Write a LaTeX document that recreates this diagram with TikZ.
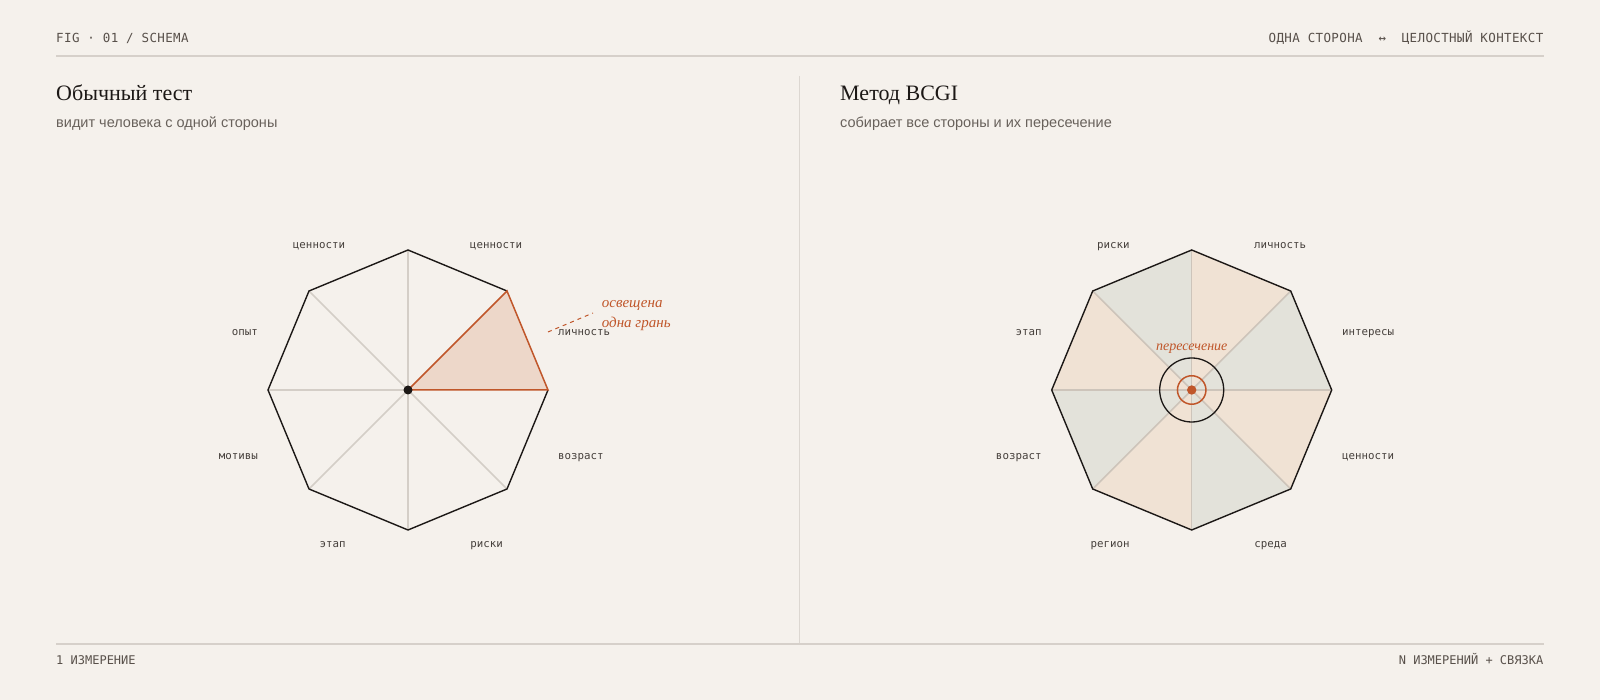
\documentclass[tikz,border=0pt]{standalone}
\usepackage{fontspec}
\usetikzlibrary{calc}
\setmainfont{Liberation Serif}
\setsansfont{Liberation Sans}
\setmonofont{DejaVu Sans Mono}
\newfontfamily\monolbl{DejaVu Sans Mono}
\newfontfamily\monohdr[LetterSpace=3]{DejaVu Sans Mono}
\definecolor{bg}{RGB}{245,241,236}
\definecolor{ink}{RGB}{28,24,22}
\definecolor{hdr}{RGB}{88,80,74}
\definecolor{sub}{RGB}{104,97,91}
\definecolor{lbl}{RGB}{70,64,60}
\definecolor{rule}{RGB}{214,208,202}
\definecolor{spoke}{RGB}{212,206,199}
\definecolor{spokeR}{RGB}{205,196,186}
\definecolor{accent}{RGB}{192,86,42}
\definecolor{wedgeL}{RGB}{237,215,201}
\definecolor{wedgeO}{RGB}{240,226,212}
\definecolor{wedgeG}{RGB}{227,226,218}
\tikzset{
  hdrtxt/.style={font=\monohdr\fontsize{12.5}{14}\selectfont, text=hdr, inner sep=0},
  foottxt/.style={font=\monolbl\fontsize{12}{14}\selectfont, text=hdr, inner sep=0},
  titletxt/.style={font=\rmfamily\fontsize{22}{26}\selectfont, text=ink, inner sep=0},
  subtxt/.style={font=\sffamily\fontsize{14.5}{17}\selectfont, text=sub, inner sep=0},
  axlbl/.style={font=\monolbl\fontsize{10.8}{13}\selectfont, text=lbl, inner sep=0},
  notetxt/.style={font=\rmfamily\itshape\fontsize{15}{18}\selectfont, text=accent, inner sep=0},
  ruleline/.style={draw=rule, line width=1.5pt},
  octline/.style={draw=ink, line width=1.4pt, line join=miter},
  spokeline/.style={draw=spoke, line width=1.5pt},
  spokelineR/.style={draw=spokeR, line width=1.5pt},
}
\begin{document}
\begin{tikzpicture}[x=1pt,y=1pt]
\fill[bg] (0,0) rectangle (1600,700);
\useasboundingbox (0,0) rectangle (1600,700);

% header / footer
\node[hdrtxt, anchor=base west] (fig) at (56,657.7) {FIG · 01 / SCHEMA};
\node[hdrtxt, anchor=base east] (hdrR) at (1543.5,657.7) {ОДНА СТОРОНА\ \ ↔\ \ ЦЕЛОСТНЫЙ КОНТЕКСТ};
\coordinate (htl) at (56,644);
\coordinate (htr) at (1543.5,644);
\draw[ruleline] (htl) -- (htr);
\coordinate (bl) at (56,56);
\coordinate (br) at (1543.5,56);
\draw[ruleline] (bl) -- (br);
\coordinate (dvt) at (799.5,624);
\coordinate (dvb) at (799.5,57);
\draw[draw=rule!80!bg, line width=1.3pt] (dvt) -- (dvb);
\node[foottxt, anchor=base west] (footL) at (56,35) {1 ИЗМЕРЕНИЕ};
\node[foottxt, anchor=base east] (footR) at (1543.5,35) {N ИЗМЕРЕНИЙ + СВЯЗКА};

% titles
\node[titletxt, anchor=base west] (t1) at (56,599) {Обычный тест};
\node[subtxt, anchor=base west] (s1) at (56,572.3) {видит человека с одной стороны};
\node[titletxt, anchor=base west] (t2) at (840,599) {Метод BCGI};
\node[subtxt, anchor=base west] (s2) at (840,572.3) {собирает все стороны и их пересечение};

% ---------------- left octagon ----------------
\coordinate (Lc) at (408,310);
\foreach \i in {0,...,7} {
  \coordinate (L\i) at ($(Lc)+({45*\i}:140)$);
}
\foreach \i in {2,...,7} { \draw[spokeline] (Lc) -- (L\i); }
\fill[wedgeL] (Lc) -- (L0) -- (L1) -- cycle;
\draw[octline] (L1) -- (L2) -- (L3) -- (L4) -- (L5) -- (L6) -- (L7) -- (L0);
\draw[draw=accent, line width=1.5pt, line join=miter] (Lc) -- (L0) -- (L1) -- cycle;
\node[circle, fill=ink, inner sep=0, minimum size=9pt] (Ldot) at (Lc) {};

\node[axlbl, anchor=base] (la1) at (319,451) {ценности};
\node[axlbl, anchor=base] (la2) at (496,451) {ценности};
\node[axlbl, anchor=base west] (la3) at (558,364) {личность};
\node[axlbl, anchor=base west] (la4) at (558,240) {возраст};
\node[axlbl, anchor=base] (la5) at (486.7,152.5) {риски};
\node[axlbl, anchor=base] (la6) at (332.7,152.5) {этап};
\node[axlbl, anchor=base east] (la7) at (258,240) {мотивы};
\node[axlbl, anchor=base east] (la8) at (258,364) {опыт};

% annotation
\coordinate (na) at (548,368);
\coordinate (nb) at (593,387);
\draw[draw=accent, line width=1pt, dash pattern=on 4pt off 4pt] (na) -- (nb);
\node[notetxt, anchor=base west] (n1) at (601.7,392) {освещена};
\node[notetxt, anchor=base west] (n2) at (601.7,372) {одна грань};

% ---------------- right octagon ----------------
\coordinate (Rc) at (1191.7,310);
\foreach \i in {0,...,7} {
  \coordinate (R\i) at ($(Rc)+({45*\i}:140)$);
}
\fill[wedgeG] (Rc) -- (R0) -- (R1) -- cycle;
\fill[wedgeO] (Rc) -- (R1) -- (R2) -- cycle;
\fill[wedgeG] (Rc) -- (R2) -- (R3) -- cycle;
\fill[wedgeO] (Rc) -- (R3) -- (R4) -- cycle;
\fill[wedgeG] (Rc) -- (R4) -- (R5) -- cycle;
\fill[wedgeO] (Rc) -- (R5) -- (R6) -- cycle;
\fill[wedgeG] (Rc) -- (R6) -- (R7) -- cycle;
\fill[wedgeO] (Rc) -- (R7) -- (R0) -- cycle;
\foreach \i in {0,...,7} { \draw[spokelineR] (Rc) -- (R\i); }
\draw[octline] (R0) -- (R1) -- (R2) -- (R3) -- (R4) -- (R5) -- (R6) -- (R7) -- cycle;
\node[circle, draw=ink, line width=1.3pt, inner sep=0, minimum size=64pt] (Rring) at (Rc) {};
\node[circle, draw=accent, line width=1.5pt, inner sep=0, minimum size=28.5pt] (Rinner) at (Rc) {};
\node[circle, fill=accent, inner sep=0, minimum size=9.4pt] (Rdot) at (Rc) {};
\node[notetxt, font=\rmfamily\itshape\fontsize{14}{16}\selectfont, anchor=base] (inter) at (1191.7,349) {пересечение};

\node[axlbl, anchor=base] (ra1) at (1113.3,451) {риски};
\node[axlbl, anchor=base] (ra2) at (1280,451) {личность};
\node[axlbl, anchor=base west] (ra3) at (1342,364) {интересы};
\node[axlbl, anchor=base west] (ra4) at (1342,240) {ценности};
\node[axlbl, anchor=base] (ra5) at (1270.7,152.5) {среда};
\node[axlbl, anchor=base] (ra6) at (1110,152.5) {регион};
\node[axlbl, anchor=base east] (ra7) at (1041.7,240) {возраст};
\node[axlbl, anchor=base east] (ra8) at (1041.7,364) {этап};
\end{tikzpicture}
\end{document}
